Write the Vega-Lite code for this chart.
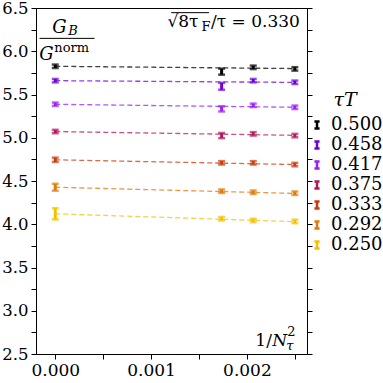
{
  "$schema": "https://vega.github.io/schema/vega-lite/v6.json",
  "width": 271,
  "height": 346,
  "padding": {"left": 1, "top": 0, "right": 0, "bottom": 0},
  "config": {
    "view": {"stroke": "#000", "strokeWidth": 1},
    "axis": {"grid": false, "domainColor": "#000", "tickColor": "#000", "labelColor": "#000", "labelFont": "DejaVu Serif", "labelFontSize": 17, "tickSize": 5, "labelPadding": 3, "title": null}
  },
  "datasets": {
    "pts": [
      {"tT": "0.500", "x": 0, "y": 5.826, "err": 0.02},
      {"tT": "0.500", "x": 0.001736, "y": 5.764, "err": 0.035},
      {"tT": "0.500", "x": 0.002066, "y": 5.814, "err": 0.02},
      {"tT": "0.500", "x": 0.0025, "y": 5.796, "err": 0.02},
      {"tT": "0.458", "x": 0, "y": 5.66, "err": 0.02},
      {"tT": "0.458", "x": 0.001736, "y": 5.595, "err": 0.04},
      {"tT": "0.458", "x": 0.002066, "y": 5.66, "err": 0.02},
      {"tT": "0.458", "x": 0.0025, "y": 5.641, "err": 0.02},
      {"tT": "0.417", "x": 0, "y": 5.387, "err": 0.02},
      {"tT": "0.417", "x": 0.001736, "y": 5.334, "err": 0.03},
      {"tT": "0.417", "x": 0.002066, "y": 5.375, "err": 0.02},
      {"tT": "0.417", "x": 0.0025, "y": 5.352, "err": 0.02},
      {"tT": "0.375", "x": 0, "y": 5.072, "err": 0.02},
      {"tT": "0.375", "x": 0.001736, "y": 5.025, "err": 0.03},
      {"tT": "0.375", "x": 0.002066, "y": 5.045, "err": 0.02},
      {"tT": "0.375", "x": 0.0025, "y": 5.025, "err": 0.02},
      {"tT": "0.333", "x": 0, "y": 4.745, "err": 0.025},
      {"tT": "0.333", "x": 0.001736, "y": 4.71, "err": 0.02},
      {"tT": "0.333", "x": 0.002066, "y": 4.71, "err": 0.02},
      {"tT": "0.333", "x": 0.0025, "y": 4.69, "err": 0.02},
      {"tT": "0.292", "x": 0, "y": 4.428, "err": 0.04},
      {"tT": "0.292", "x": 0.001736, "y": 4.382, "err": 0.02},
      {"tT": "0.292", "x": 0.002066, "y": 4.37, "err": 0.02},
      {"tT": "0.292", "x": 0.0025, "y": 4.359, "err": 0.02},
      {"tT": "0.250", "x": 0, "y": 4.121, "err": 0.065},
      {"tT": "0.250", "x": 0.001736, "y": 4.064, "err": 0.02},
      {"tT": "0.250", "x": 0.002066, "y": 4.044, "err": 0.02},
      {"tT": "0.250", "x": 0.0025, "y": 4.032, "err": 0.02}
    ],
    "fits": [
      {"tT": "0.500", "x": 0, "y": 5.826}, {"tT": "0.500", "x": 0.0025, "y": 5.8},
      {"tT": "0.458", "x": 0, "y": 5.66}, {"tT": "0.458", "x": 0.0025, "y": 5.64},
      {"tT": "0.417", "x": 0, "y": 5.387}, {"tT": "0.417", "x": 0.0025, "y": 5.352},
      {"tT": "0.375", "x": 0, "y": 5.072}, {"tT": "0.375", "x": 0.0025, "y": 5.028},
      {"tT": "0.333", "x": 0, "y": 4.745}, {"tT": "0.333", "x": 0.0025, "y": 4.69},
      {"tT": "0.292", "x": 0, "y": 4.428}, {"tT": "0.292", "x": 0.0025, "y": 4.356},
      {"tT": "0.250", "x": 0, "y": 4.121}, {"tT": "0.250", "x": 0.0025, "y": 4.03}
    ]
  },
  "resolve": {"axis": {"y": "independent"}},
  "layer": [
    {
      "data": {"name": "fits"},
      "mark": {"type": "line", "strokeDash": [5, 3], "strokeWidth": 1.3, "opacity": 0.75},
      "encoding": {
        "x": {"field": "x", "type": "quantitative", "scale": {"domain": [-0.000201, 0.002627], "nice": false, "zero": false},
              "axis": {"title": null, "values": [0, 0.0005, 0.001, 0.0015, 0.002, 0.0025], "labelExpr": "abs(datum.value*1000 - round(datum.value*1000)) < 1e-6 ? format(datum.value, '.3f') : ''"}},
        "y": {"field": "y", "type": "quantitative", "scale": {"domain": [2.5, 6.5], "nice": false, "zero": false},
              "axis": {"title": null, "orient": "right", "labels": false, "values": [2.5, 2.75, 3, 3.25, 3.5, 3.75, 4, 4.25, 4.5, 4.75, 5, 5.25, 5.5, 5.75, 6, 6.25, 6.5]}},
        "color": {"field": "tT", "type": "nominal",
                  "sort": ["0.500", "0.458", "0.417", "0.375", "0.333", "0.292", "0.250"],
                  "scale": {"domain": ["0.500", "0.458", "0.417", "0.375", "0.333", "0.292", "0.250"], "range": ["#000000", "#6f00d8", "#9b1ef2", "#b01a5a", "#cc3a0a", "#e07a0a", "#f5c000"]},
                  "legend": {"title": "τT", "orient": "none", "legendX": 272, "legendY": 83, "padding": 0,
                             "titleFont": "DejaVu Serif", "titleFontStyle": "italic", "titleFontWeight": "normal", "titleFontSize": 19, "titleColor": "#000", "titleAnchor": "middle", "titleAlign": "center", "titlePadding": 6,
                             "labelFont": "DejaVu Serif", "labelFontSize": 18, "labelColor": "#000", "labelOffset": 5,
                             "symbolType": "M-0.45,-0.6H0.45M0,-0.6V0.6M-0.45,0.6H0.45", "symbolSize": 130, "symbolStrokeWidth": 2.5, "symbolDash": [], "symbolFillColor": "transparent", "symbolOpacity": 1, "rowPadding": 2}},
        "detail": {"field": "tT"}
      }
    },
    {
      "data": {"name": "pts"},
      "mark": {"type": "errorbar", "rule": {"strokeWidth": 3}, "ticks": {"size": 7, "thickness": 2.5}},
      "encoding": {
        "x": {"field": "x", "type": "quantitative"},
        "y": {"field": "y", "type": "quantitative",
              "axis": {"title": null, "orient": "left", "labelFontSize": 16.5, "values": [2.5, 2.75, 3, 3.25, 3.5, 3.75, 4, 4.25, 4.5, 4.75, 5, 5.25, 5.5, 5.75, 6, 6.25, 6.5], "labelExpr": "abs(datum.value*2 - round(datum.value*2)) < 1e-6 ? format(datum.value, '.1f') : ''"}},
        "yError": {"field": "err"},
        "color": {"field": "tT", "type": "nominal",
                  "sort": ["0.500", "0.458", "0.417", "0.375", "0.333", "0.292", "0.250"],
                  "legend": {"title": "τT", "orient": "none", "legendX": 272, "legendY": 83, "padding": 0,
                             "titleFont": "DejaVu Serif", "titleFontStyle": "italic", "titleFontWeight": "normal", "titleFontSize": 19, "titleColor": "#000", "titleAnchor": "middle", "titleAlign": "center", "titlePadding": 6,
                             "labelFont": "DejaVu Serif", "labelFontSize": 18, "labelColor": "#000", "labelOffset": 5,
                             "symbolType": "M-0.45,-0.6H0.45M0,-0.6V0.6M-0.45,0.6H0.45", "symbolSize": 130, "symbolStrokeWidth": 2.5, "symbolDash": [], "symbolFillColor": "transparent", "symbolOpacity": 1, "rowPadding": 2}}
      }
    },
    {
      "data": {"values": [{"x1": -0.000164, "x2": 0.00041, "y": 6.149}, {"x1": 0.00121, "x2": 0.001605, "y": 6.446}]},
      "mark": {"type": "rule", "color": "#000", "strokeWidth": 1},
      "encoding": {
        "x": {"field": "x1", "type": "quantitative"},
        "x2": {"field": "x2"},
        "y": {"field": "y", "type": "quantitative", "axis": null}
      }
    },
    {
      "data": {"values": [{"x": -0.0000313, "y": 6.215, "t": "G"}, {"x": -0.000167, "y": 5.897, "t": "G"}]},
      "mark": {"type": "text", "font": "DejaVu Serif", "fontStyle": "italic", "fontSize": 18, "align": "left", "baseline": "alphabetic", "color": "#000"},
      "encoding": {"x": {"field": "x", "type": "quantitative"}, "y": {"field": "y", "type": "quantitative", "axis": null}, "text": {"field": "t"}}
    },
    {
      "data": {"values": [{"x": 0.0001357, "y": 6.186, "t": "B"}, {"x": 0.002411, "y": 2.543, "t": "τ"}]},
      "mark": {"type": "text", "font": "DejaVu Serif", "fontStyle": "italic", "fontSize": 13, "align": "left", "baseline": "alphabetic", "color": "#000"},
      "encoding": {"x": {"field": "x", "type": "quantitative"}, "y": {"field": "y", "type": "quantitative", "axis": null}, "text": {"field": "t"}}
    },
    {
      "data": {"values": [{"x": -0.0000104, "y": 5.987, "t": "norm"}, {"x": 0.001525, "y": 6.238, "t": "F"}, {"x": 0.002422, "y": 2.705, "t": "2"}]},
      "mark": {"type": "text", "font": "DejaVu Serif", "fontSize": 13, "align": "left", "baseline": "alphabetic", "color": "#000"},
      "encoding": {"x": {"field": "x", "type": "quantitative"}, "y": {"field": "y", "type": "quantitative", "axis": null}, "text": {"field": "t"}}
    },
    {
      "data": {"values": [{"x": 0.001495, "y": 6.276, "t": "√8τ"}]},
      "mark": {"type": "text", "font": "DejaVu Serif", "fontSize": 17, "align": "right", "baseline": "alphabetic", "color": "#000"},
      "encoding": {"x": {"field": "x", "type": "quantitative"}, "y": {"field": "y", "type": "quantitative", "axis": null}, "text": {"field": "t"}}
    },
    {
      "data": {"values": [{"x": 0.001625, "y": 6.276, "t": "/τ = 0.330"}, {"x": 0.002088, "y": 2.589, "t": "1/"}]},
      "mark": {"type": "text", "font": "DejaVu Serif", "fontSize": 17, "align": "left", "baseline": "alphabetic", "color": "#000"},
      "encoding": {"x": {"field": "x", "type": "quantitative"}, "y": {"field": "y", "type": "quantitative", "axis": null}, "text": {"field": "t"}}
    },
    {
      "data": {"values": [{"x": 0.002265, "y": 2.589, "t": "N"}]},
      "mark": {"type": "text", "font": "DejaVu Serif", "fontStyle": "italic", "fontSize": 17, "align": "left", "baseline": "alphabetic", "color": "#000"},
      "encoding": {"x": {"field": "x", "type": "quantitative"}, "y": {"field": "y", "type": "quantitative", "axis": null}, "text": {"field": "t"}}
    }
  ]
}
